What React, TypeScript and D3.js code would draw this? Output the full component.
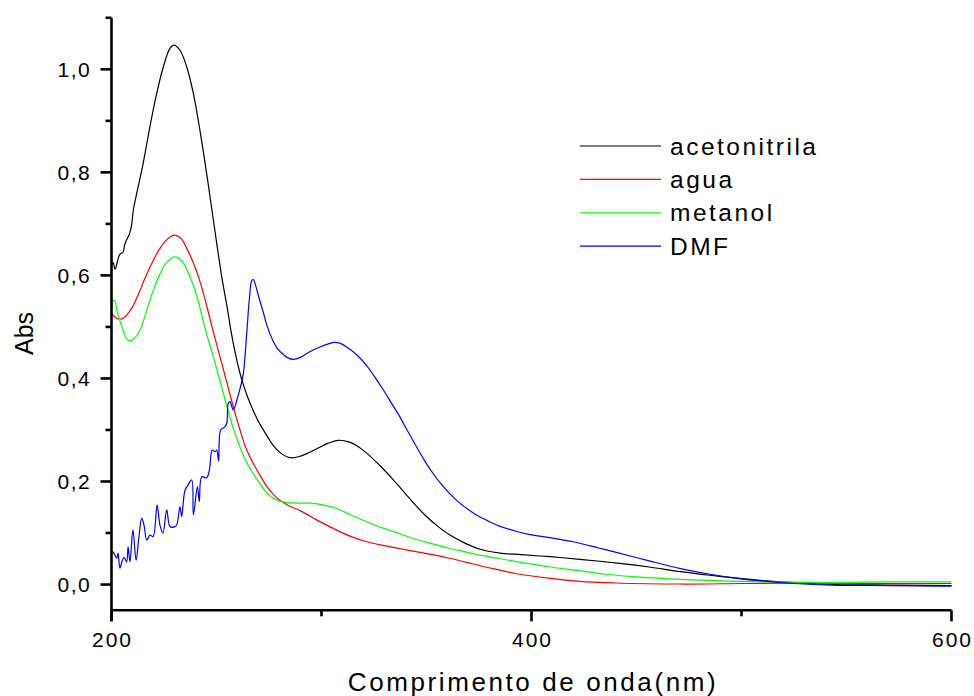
import React from "react";
import * as d3 from "d3";

// UV-Vis absorption spectra of the compound in four solvents
const wavelengthDomain: [number, number] = [200, 600];
const absDomain: [number, number] = [-0.05, 1.1];

const xMajorTicks = [200, 400, 600];
const xMinorTicks = [300, 500];
const yMajorTicks = [0, 0.2, 0.4, 0.6, 0.8, 1.0];
const yMinorTicks = [0.1, 0.3, 0.5, 0.7, 0.9, 1.1];

const seriesNames = ["acetonitrila", "agua", "metanol", "DMF"];
const seriesColors = ["#000000", "#ff0000", "#00ff00", "#0000ff"];

const acetonitrila: [number, number][] = [
  [200, 0.618], [200.8, 0.625], [201.7, 0.612], [203, 0.63], [204, 0.641], [205.5, 0.645],
  [206.3, 0.66], [207.2, 0.669], [208.5, 0.68], [209.6, 0.698], [210.4, 0.727], [212, 0.759],
  [215.1, 0.818], [218.3, 0.889], [221.5, 0.953], [224.7, 1.005], [227.9, 1.041], [229.8, 1.047],
  [232.6, 1.037], [235.8, 1.005], [239, 0.953], [242.1, 0.882], [245.3, 0.798], [248.5, 0.708],
  [252.5, 0.597], [255, 0.54], [257, 0.49], [259, 0.448], [261, 0.413], [263, 0.385],
  [265, 0.362], [268, 0.333], [271, 0.309], [274, 0.289], [277, 0.27], [280, 0.257],
  [283.5, 0.248], [286, 0.246], [289, 0.248], [293, 0.254], [298, 0.264], [303, 0.274],
  [308, 0.28], [313, 0.277], [317, 0.269], [321.5, 0.255], [328, 0.23], [334, 0.204],
  [340, 0.176], [345, 0.153], [350, 0.132], [356, 0.111], [362, 0.094], [369, 0.079],
  [376, 0.068], [385, 0.061], [395, 0.058], [409, 0.054], [423, 0.049], [442, 0.041],
  [456, 0.034], [471, 0.025], [485, 0.018], [499, 0.012], [512, 0.007], [528, 0.003],
  [545, 0.0], [570, -0.001], [600, -0.002],
];

const agua: [number, number][] = [
  [200, 0.527], [202, 0.518], [204, 0.515], [206, 0.518], [208, 0.527], [210, 0.539],
  [213, 0.565], [216, 0.595], [220, 0.63], [223, 0.652], [226, 0.668], [229.8, 0.678],
  [233, 0.672], [236, 0.651], [239, 0.624], [242, 0.59], [245, 0.546], [248.5, 0.49],
  [252, 0.437], [255, 0.391], [258, 0.345], [261.2, 0.3], [264, 0.265], [267.4, 0.236],
  [271, 0.21], [274, 0.19], [277, 0.175], [280, 0.164], [284, 0.154], [290, 0.143],
  [297.8, 0.125], [305.6, 0.109], [313.6, 0.094], [321.5, 0.083], [329.4, 0.076], [337, 0.07],
  [345, 0.064], [353, 0.058], [361, 0.051], [369, 0.043], [377, 0.035], [385, 0.028],
  [393, 0.021], [409, 0.012], [423, 0.006], [440, 0.003], [471, 0.001], [500, 0.002],
  [530, 0.003], [560, 0.002], [600, 0.002],
];

const metanol: [number, number][] = [
  [200, 0.53], [200.9, 0.552], [201.6, 0.55], [203, 0.525], [205.5, 0.494], [207, 0.478],
  [208.8, 0.473], [211, 0.478], [213.6, 0.494], [217, 0.535], [220, 0.572], [223, 0.602],
  [226, 0.624], [230, 0.636], [233.5, 0.628], [237.4, 0.597], [240, 0.568], [242, 0.539],
  [245, 0.49], [248.5, 0.442], [252, 0.39], [255, 0.345], [258, 0.303], [261.2, 0.267],
  [264, 0.24], [267.4, 0.216], [271, 0.194], [274, 0.178], [277, 0.168], [280, 0.162],
  [284, 0.159], [290, 0.158], [295, 0.158], [300, 0.155], [307, 0.148], [314, 0.135],
  [321.5, 0.122], [329, 0.11], [337, 0.099], [345, 0.088], [353, 0.079], [361, 0.07],
  [369, 0.063], [377, 0.056], [385, 0.05], [395, 0.043], [409, 0.034], [423, 0.027],
  [435, 0.02], [450, 0.015], [471, 0.01], [490, 0.007], [512, 0.005], [540, 0.004],
  [570, 0.005], [600, 0.005],
];

const dmf: [number, number][] = [
  [200.7, 0.064], [201.5, 0.058], [202.5, 0.051], [203.1, 0.061], [204, 0.032], [205, 0.045],
  [206, 0.053], [207.2, 0.044], [207.9, 0.073], [208.8, 0.044], [210.2, 0.106], [211.7, 0.047],
  [213, 0.09], [214.4, 0.129], [215.5, 0.115], [216.8, 0.086], [218.3, 0.096], [219.8, 0.093],
  [221.7, 0.154], [223.1, 0.115], [224.5, 0.1], [226.3, 0.145], [227.9, 0.112], [230, 0.112],
  [231, 0.115], [232.6, 0.151], [233.4, 0.132], [235, 0.183], [236.4, 0.193], [238.2, 0.203],
  [239, 0.135], [240.9, 0.19], [241.8, 0.161], [243, 0.209], [245.3, 0.207], [246.6, 0.222],
  [248, 0.261], [249.3, 0.258], [250.1, 0.261], [251, 0.24], [252, 0.3], [254, 0.306],
  [254.9, 0.313], [255.6, 0.352], [256.4, 0.355], [258, 0.339], [259.9, 0.361], [261.5, 0.385],
  [262.8, 0.41], [264.4, 0.488], [265.6, 0.552], [266.8, 0.59], [267.5, 0.592], [268.3, 0.585],
  [270, 0.56], [272.3, 0.528], [274, 0.503], [277, 0.472], [279, 0.458], [282, 0.446],
  [284, 0.44], [286.6, 0.437], [290, 0.441], [294.5, 0.452], [299.3, 0.461], [304, 0.468],
  [306, 0.47], [309, 0.468], [312, 0.461], [317, 0.445], [321.5, 0.425], [325, 0.405],
  [329.4, 0.378], [333, 0.354], [337.4, 0.325], [341, 0.298], [345.3, 0.267], [349, 0.241],
  [353.2, 0.215], [357, 0.195], [361.2, 0.176], [365, 0.161], [369.1, 0.148], [373, 0.137],
  [377, 0.128], [381, 0.12], [385, 0.113], [393, 0.103], [399.3, 0.097], [408.8, 0.091],
  [419.9, 0.083], [432, 0.071], [439, 0.064], [456, 0.046], [471, 0.031], [485, 0.02],
  [498, 0.012], [512, 0.006], [525, 0.002], [543, -0.001], [570, -0.002], [600, -0.003],
];

const seriesData = [acetonitrila, agua, metanol, dmf];

const W = 974;
const H = 696;
const plot = { left: 111.5, right: 951.5, top: 17.8, bottom: 610.3 };
const FONT = "'Liberation Sans', Arial, Helvetica, sans-serif";

const fmt = (v: number) => d3.format(".1f")(v).replace(".", ",");

export default function App() {
  const x = d3.scaleLinear().domain(wavelengthDomain).range([plot.left, plot.right]);
  const y = d3.scaleLinear().domain(absDomain).range([plot.bottom, plot.top]);

  const line = d3
    .line<[number, number]>()
    .x((d) => x(d[0]))
    .y((d) => y(d[1]))
    .curve(d3.curveCatmullRom.alpha(0.5));

  const axisY = y(absDomain[0]);
  const axisW = 2.6;
  const legendX = 580;
  const legendY0 = 146;
  const legendStep = 33.4;

  return (
    <svg
      width={W}
      height={H}
      viewBox={`0 0 ${W} ${H}`}
      style={{ position: "absolute", left: 0, top: 0, background: "#fff" }}
      fontFamily={FONT}
    >
      <rect x={0} y={0} width={W} height={H} fill="#fff" />

      {/* spectra */}
      <g fill="none" strokeWidth={1.2} strokeLinejoin="round">
        {seriesData.map((s, i) => (
          <path key={seriesNames[i]} d={line(s) || ""} stroke={seriesColors[i]} />
        ))}
      </g>

      {/* y axis */}
      <g stroke="#000" strokeWidth={axisW}>
        <line x1={plot.left} x2={plot.left} y1={y(1.1)} y2={axisY + 11} />
        {yMajorTicks.map((t) => (
          <line key={`ym${t}`} x1={plot.left - 11} x2={plot.left} y1={y(t)} y2={y(t)} />
        ))}
        {yMinorTicks.map((t) => (
          <line key={`yn${t}`} x1={plot.left - 6} x2={plot.left} y1={y(t)} y2={y(t)} />
        ))}
      </g>
      <g fontSize={21} textAnchor="end" fill="#000" style={{ letterSpacing: "1.4px" }}>
        {yMajorTicks.map((t) => (
          <text key={`yl${t}`} x={91} y={y(t) + 7.5}>
            {fmt(t)}
          </text>
        ))}
      </g>

      {/* x axis */}
      <g stroke="#000" strokeWidth={axisW}>
        <line x1={plot.left} x2={plot.right} y1={axisY} y2={axisY} />
        {xMajorTicks.map((t) => (
          <line key={`xm${t}`} x1={x(t)} x2={x(t)} y1={axisY} y2={axisY + 11} />
        ))}
        {xMinorTicks.map((t) => (
          <line key={`xn${t}`} x1={x(t)} x2={x(t)} y1={axisY} y2={axisY + 6} />
        ))}
      </g>
      <g fontSize={21} textAnchor="middle" fill="#000" style={{ letterSpacing: "2px" }}>
        {xMajorTicks.map((t) => (
          <text key={`xl${t}`} x={x(t) + 1} y={647}>
            {t}
          </text>
        ))}
      </g>

      {/* axis titles */}
      <text
        x={533}
        y={691}
        fontSize={26}
        textAnchor="middle"
        fill="#000"
        style={{ letterSpacing: "2.6px" }}
      >
        Comprimento de onda(nm)
      </text>
      <text
        transform={`translate(33, 333.5) rotate(-90)`}
        fontSize={25}
        textAnchor="middle"
        fill="#000"
      >
        Abs
      </text>

      {/* legend */}
      <g>
        {seriesNames.map((name, i) => {
          const ly = legendY0 + i * legendStep;
          return (
            <g key={name}>
              <line
                x1={legendX}
                x2={legendX + 81}
                y1={ly}
                y2={ly}
                stroke={seriesColors[i]}
                strokeWidth={1.2}
              />
              <text
                x={legendX + 90}
                y={ly + 8.5}
                fontSize={24.5}
                fill="#000"
                style={{ letterSpacing: "2.5px" }}
              >
                {name}
              </text>
            </g>
          );
        })}
      </g>
    </svg>
  );
}
